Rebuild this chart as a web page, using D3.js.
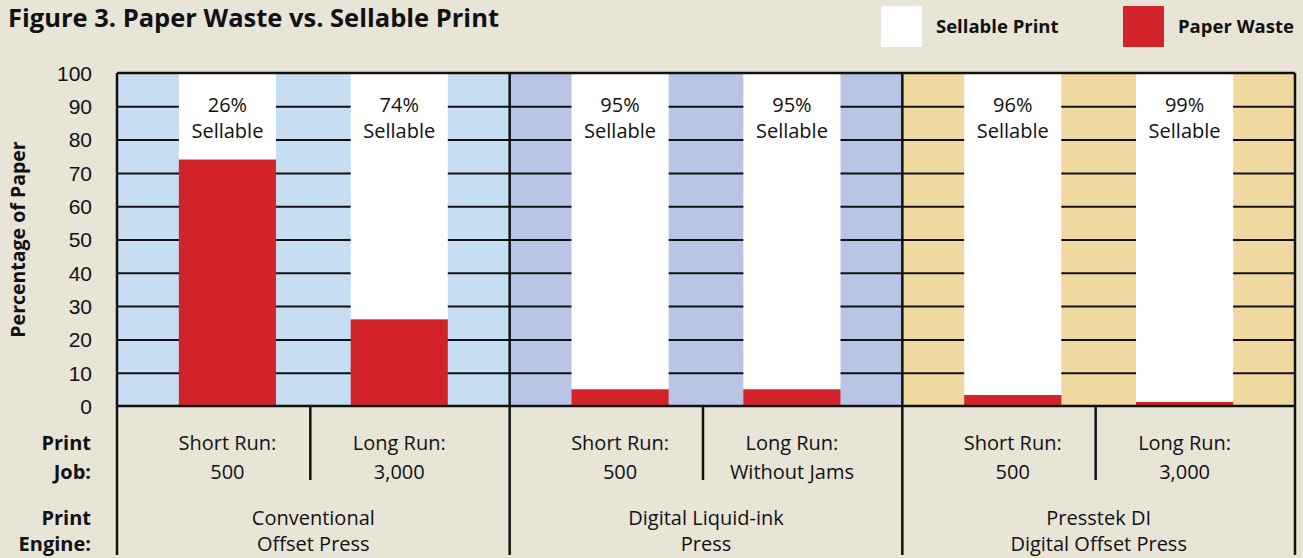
<!DOCTYPE html>
<meta charset="utf-8">
<html>
<head>
<title>Paper Waste vs. Sellable Print</title>
<script src="https://d3js.org/d3.v7.min.js"></script>
<style>
  body {margin: 0; background: #e8e4d6; font-family: "Open Sans", "Noto Sans", sans-serif;}
  svg {display: block;}
  .tick text {font-size: 20px; fill: #111;}
  .cell {font-size: 20px; fill: #111; text-anchor: middle;}
  .rowlab {font-size: 20px; font-weight: bold; fill: #111; text-anchor: end;}
</style>
</head>
<body>
<svg id="chart" width="1303" height="558"></svg>
<script>
// data
var engines = ["Conventional", "Digital Liquid-ink", "Presstek DI"];
var engineLines = [["Conventional", "Offset Press"], ["Digital Liquid-ink", "Press"], ["Presstek DI", "Digital Offset Press"]];
var jobLines = [["Short Run:", "500"], ["Long Run:", "3,000"],
                ["Short Run:", "500"], ["Long Run:", "Without Jams"],
                ["Short Run:", "500"], ["Long Run:", "3,000"]];
var waste = [74, 26, 5, 5, 3.3, 1.2];
var sellableLabels = ["26%", "74%", "95%", "95%", "96%", "99%"];
var groupColors = ["#c6ddf2", "#bac4e4", "#f0d9a0"];
var yTicks = [0, 10, 20, 30, 40, 50, 60, 70, 80, 90, 100];

var svg = d3.select("#chart"),
    margin = {top: 73, right: 8, left: 117},
    plotBottom = 406,
    W = +svg.attr("width"),
    H = +svg.attr("height");

var y = d3.scaleLinear().domain([0, 100]).range([plotBottom, margin.top]);
var x0 = d3.scaleBand().domain(d3.range(engines.length)).range([margin.left, W - margin.right]);
var x1 = d3.scaleBand().domain([0, 1]).range([0, x0.bandwidth()])
    .paddingInner(0.435).paddingOuter(0.36);

var bars = waste.map(function(w, i) {
  return {g: Math.floor(i / 2), k: i % 2, waste: w, label: sellableLabels[i], job: jobLines[i]};
});
function barMid(d) { return x0(d.g) + x1(d.k) + x1.bandwidth() / 2; }

// title + legend
svg.append("text")
    .attr("x", 8).attr("y", 27)
    .style("font-size", "25.5px").style("font-weight", "bold").style("fill", "#111")
    .text("Figure 3. Paper Waste vs. Sellable Print");

var legend = [{name: "Sellable Print", color: "#fff", x: 881}, {name: "Paper Waste", color: "#d3232a", x: 1123}];
var lg = svg.selectAll(".legend").data(legend).enter().append("g")
    .attr("transform", function(d) { return "translate(" + d.x + ",6)"; });
lg.append("rect").attr("width", 41).attr("height", 41).attr("fill", function(d) { return d.color; });
lg.append("text").attr("x", 55).attr("y", 27)
    .style("font-size", "18.5px").style("font-weight", "bold").style("fill", "#111")
    .text(function(d) { return d.name; });

// group backgrounds
svg.selectAll(".bg").data(engines).enter().append("rect")
    .attr("x", function(d, i) { return x0(i); })
    .attr("y", y(100))
    .attr("width", x0.bandwidth())
    .attr("height", y(0) - y(100))
    .attr("fill", function(d, i) { return groupColors[i]; });

// gridlines
svg.append("g")
    .attr("transform", "translate(" + margin.left + ",0)")
    .call(d3.axisLeft(y).tickValues(yTicks.slice(1, -1)).tickSize(-(W - margin.right - margin.left)).tickFormat(""))
    .call(function(g) { g.select(".domain").remove(); })
    .selectAll("line").attr("stroke", "#111").attr("stroke-width", 2);

// bars: white sellable part on top, red waste at bottom
var bg = svg.selectAll(".bar").data(bars).enter().append("g");
bg.append("rect")
    .attr("x", function(d) { return x0(d.g) + x1(d.k); })
    .attr("y", y(100))
    .attr("width", x1.bandwidth())
    .attr("height", function(d) { return y(d.waste) - y(100); })
    .attr("fill", "#fff");
bg.append("rect")
    .attr("x", function(d) { return x0(d.g) + x1(d.k); })
    .attr("y", function(d) { return y(d.waste); })
    .attr("width", x1.bandwidth())
    .attr("height", function(d) { return y(0) - y(d.waste); })
    .attr("fill", "#d3232a");
bg.append("text").attr("class", "cell")
    .attr("x", barMid)
    .attr("y", y(100) + 39)
    .text(function(d) { return d.label; });
bg.append("text").attr("class", "cell")
    .attr("x", barMid)
    .attr("y", y(100) + 65)
    .text("Sellable");

// y axis labels
svg.append("g")
    .attr("transform", "translate(" + (margin.left - 25) + ",0)")
    .call(d3.axisLeft(y).tickValues(yTicks).tickSize(0))
    .call(function(g) { g.select(".domain").remove(); })
    .selectAll("text").attr("x", 0).attr("dy", "0.35em").style("font-size", "21px");

svg.append("text")
    .attr("transform", "translate(25," + (y(50)) + ") rotate(-90)")
    .attr("text-anchor", "middle")
    .style("font-size", "19.5px").style("font-weight", "bold").style("fill", "#111")
    .text("Percentage of Paper");

// frame lines
var line = svg.append("g").attr("stroke", "#111").attr("stroke-width", 2.5);
line.append("line").attr("x1", margin.left).attr("x2", W - margin.right).attr("y1", y(100)).attr("y2", y(100));
line.append("line").attr("x1", margin.left).attr("x2", W - margin.right).attr("y1", y(0)).attr("y2", y(0));
line.selectAll(".vdiv").data(d3.range(engines.length + 1)).enter().append("line")
    .attr("x1", function(i) { return i < engines.length ? x0(i) : W - margin.right; })
    .attr("x2", function(i) { return i < engines.length ? x0(i) : W - margin.right; })
    .attr("y1", y(100)).attr("y2", H - 3);
line.selectAll(".sdiv").data(engines).enter().append("line")
    .attr("x1", function(d, i) { return x0(i) + x0.bandwidth() / 2 - 3; })
    .attr("x2", function(d, i) { return x0(i) + x0.bandwidth() / 2 - 3; })
    .attr("y1", y(0)).attr("y2", 480);

// table rows
var rowLab = [["Print", "Job:", 450, 479], ["Print", "Engine:", 525, 551]];
rowLab.forEach(function(r) {
  svg.append("text").attr("class", "rowlab").attr("x", 91).attr("y", r[2]).text(r[0]);
  svg.append("text").attr("class", "rowlab").attr("x", 91).attr("y", r[3]).text(r[1]);
});

bg.append("text").attr("class", "cell")
    .attr("x", barMid)
    .attr("y", 450)
    .text(function(d) { return d.job[0]; });
bg.append("text").attr("class", "cell")
    .attr("x", barMid)
    .attr("y", 479)
    .text(function(d) { return d.job[1]; });

svg.selectAll(".eng").data(engineLines).enter().append("g")
  .each(function(d, i) {
    var g = d3.select(this);
    g.append("text").attr("class", "cell").attr("x", x0(i) + x0.bandwidth() / 2).attr("y", 525).text(d[0]);
    g.append("text").attr("class", "cell").attr("x", x0(i) + x0.bandwidth() / 2).attr("y", 551).text(d[1]);
  });
</script>
</body>
</html>
